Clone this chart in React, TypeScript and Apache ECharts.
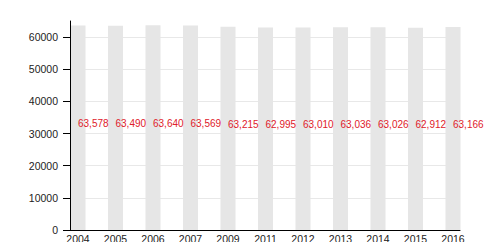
import React, { useEffect, useRef } from "react";
import * as echarts from "echarts";

const years = ["2004", "2005", "2006", "2007", "2009", "2011", "2012", "2013", "2014", "2015", "2016"];
const population = [63578, 63490, 63640, 63569, 63215, 62995, 63010, 63036, 63026, 62912, 63166];
const yTicksMax = 60000;
const yAxisMax = 65000;
const yInterval = 10000;

const FONT = "'Liberation Sans', Arial, sans-serif";

export default function App() {
  const ref = useRef<HTMLDivElement>(null);
  useEffect(() => {
    if (!ref.current) return;
    const chart = echarts.init(ref.current, undefined, { renderer: "svg" });
    const bottom = 20;
    const top = 21;
    const plotH = 250 - top - bottom;
    const gridBTop = top + plotH * (1 - yTicksMax / yAxisMax);
    chart.setOption({
      animation: false,
      grid: [
        { left: 70, right: 40, top, bottom },
        { left: 70, right: 40, top: gridBTop, bottom },
        { left: 78, right: 47, top, bottom },
      ],
      xAxis: [
        {
          type: "value", gridIndex: 0, min: 0, max: 1, z: 5,
          axisLine: { show: true, lineStyle: { color: "#000", width: 1 } },
          axisTick: { show: false }, axisLabel: { show: false }, splitLine: { show: false },
        },
        {
          type: "value", gridIndex: 1, min: 0, max: 1, show: false,
        },
        {
          type: "category", gridIndex: 2, data: years, boundaryGap: false,
          axisLine: { show: false }, axisTick: { show: false },
          axisLabel: { margin: 3, fontSize: 10.5, color: "#222", fontFamily: FONT },
        },
      ],
      yAxis: [
        {
          type: "value", gridIndex: 0, min: 0, max: yAxisMax, z: 5,
          axisLine: { show: true, lineStyle: { color: "#000", width: 1 } },
          axisTick: { show: false }, axisLabel: { show: false }, splitLine: { show: false },
        },
        {
          type: "value", gridIndex: 1, min: 0, max: yTicksMax, interval: yInterval,
          axisLine: { show: false },
          axisTick: { show: true, length: 7, lineStyle: { color: "#000" } },
          axisLabel: {
            margin: 12, fontSize: 10.5, color: "#222", fontFamily: FONT,
            formatter: (v: number) => String(v),
          },
          splitLine: { show: true, lineStyle: { color: "#e8e8e8", width: 1 } },
        },
        {
          type: "value", gridIndex: 2, min: 0, max: yAxisMax, show: false,
        },
      ],
      series: [
        {
          type: "bar", xAxisIndex: 2, yAxisIndex: 2, data: population, barWidth: 15,
          itemStyle: { color: "#e6e6e6" },
          label: {
            show: true, position: "inside", align: "left", verticalAlign: "middle",
            offset: [0, -4], color: "#e0202a", fontSize: 10, fontFamily: FONT,
            formatter: (p: any) => p.value.toLocaleString("en-US"),
          },
        },
      ],
    });
    return () => chart.dispose();
  }, []);
  return <div ref={ref} style={{ width: 500, height: 250, margin: -8 }} />;
}
